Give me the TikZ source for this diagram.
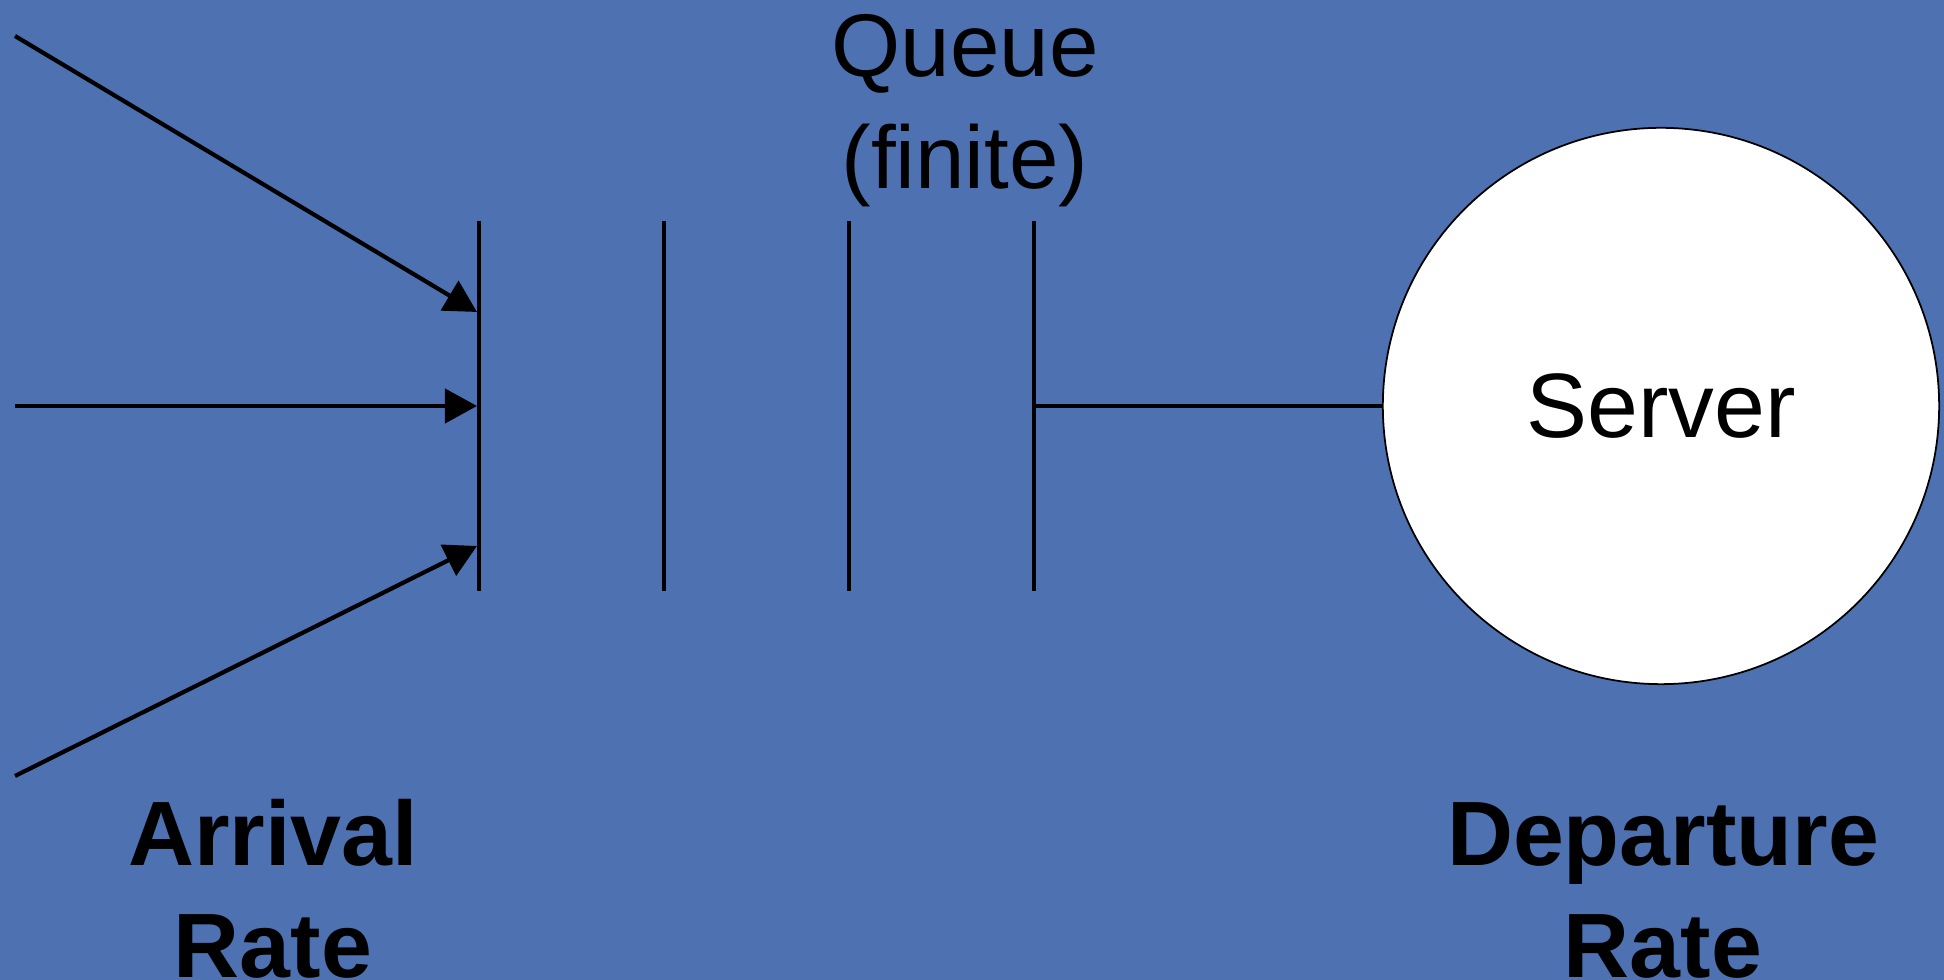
\documentclass[tikz,border=0pt]{standalone}
\usepackage{fontspec}
\setmainfont{Liberation Sans}
\usetikzlibrary{arrows.meta}

\definecolor{slideblue}{HTML}{4E71B2}
\def \lineW {1.2pt}

\begin{document}
\begin{tikzpicture}[x=0.01cm, y=-0.01cm,
    bar/.style={line width=\lineW},
    feed/.style={line width=\lineW, -{Triangle[length=0.32cm,width=0.34cm]}},
    label/.style={font=\fontsize{25.3pt}{31.9pt}\selectfont, align=center, inner sep=0pt},
    boldlabel/.style={font=\fontsize{26pt}{32pt}\selectfont\bfseries, align=center, inner sep=0pt}]
      \fill[slideblue] (0,0) rectangle (1944,980);
      \useasboundingbox (0,0) rectangle (1944,980);
      \pgfmathsetmacro{\yTop}{221}
      \pgfmathsetmacro{\yBot}{591}
      \pgfmathsetmacro{\yMid}{406}
      % queue slots
      \foreach \i/\x in {1/479, 2/664, 3/849, 4/1034} {
         \coordinate (top\i) at (\x,\yTop);
         \coordinate (bot\i) at (\x,\yBot);
         \draw[bar] (top\i) -- (bot\i);
      }
      \coordinate (in1) at (477,312);
      \coordinate (in2) at (477,\yMid);
      \coordinate (in3) at (477,546);
      \coordinate (src1) at (15,36);
      \coordinate (src2) at (15,\yMid);
      \coordinate (src3) at (15,776);
      \draw[feed] (src1) -- (in1);
      \draw[feed] (src2) -- (in2);
      \draw[feed] (src3) -- (in3);
      \coordinate (out) at (1034,\yMid);
      \node[circle, draw, fill=white, line width=0.5pt, minimum size=5.56cm, inner sep=0pt,
            font=\fontsize{26pt}{32pt}\selectfont] (server) at (1661,\yMid) {Server};
      \draw[line width=\lineW] (out) -- (server.west);
      % anchor=base sits on the last line
      \node[label, anchor=base] (queue) at (965,189) {Queue\\(finite)};
      \node[boldlabel, anchor=base] (arrival) at (273,978) {Arrival\\Rate};
      \node[boldlabel, anchor=base] (departure) at (1663,978) {Departure\\Rate};
   \end{tikzpicture}
\end{document}
